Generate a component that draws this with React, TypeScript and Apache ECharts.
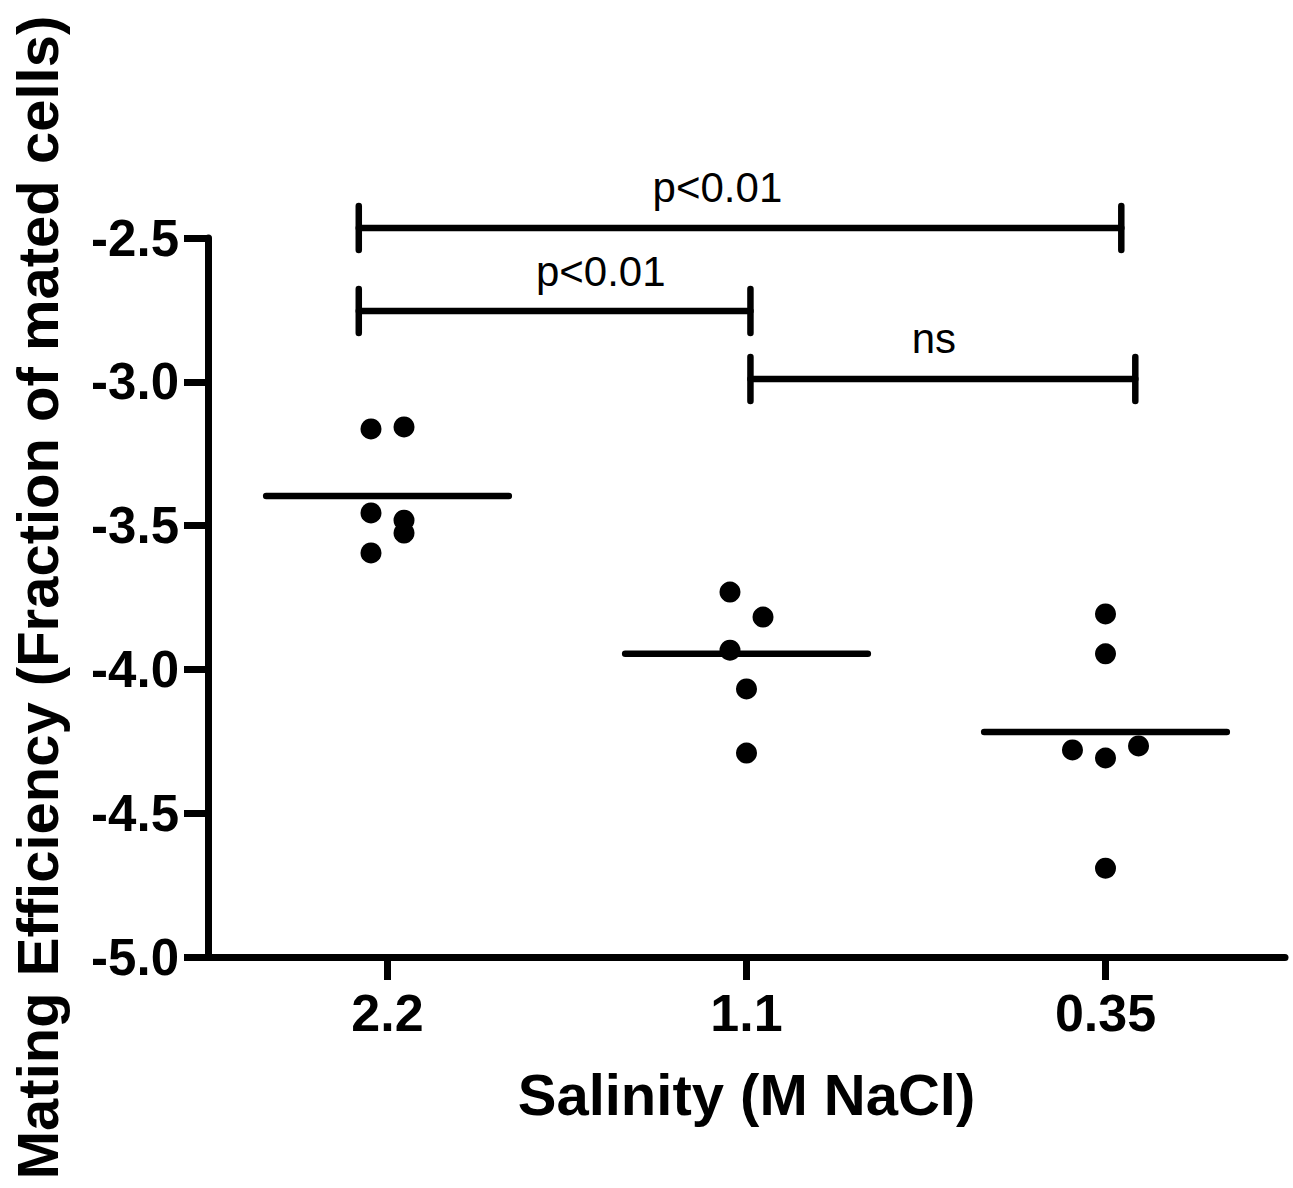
import React, { useEffect, useRef } from "react";
import * as echarts from "echarts";

// ---- data ----
const categories = ["2.2", "1.1", "0.35"];

const values22 = [-3.164, -3.157, -3.456, -3.481, -3.526, -3.595];
const jitter22 = [-1, 1, -1, 1, 1, -1];
const values11 = [-3.731, -3.818, -3.933, -4.068, -4.291];
const jitter11 = [-1, 1, -1, 0, 0];
const values035 = [-3.807, -3.946, -4.28, -4.308, -4.266, -4.691];
const jitter035 = [0, 0, -2, 0, 2, 0];

const groupMeans = [-3.397, -3.946, -4.218];

const yMin = -5.0;
const yMax = -2.5;
const yStep = 0.5;

// significance brackets (x in category units, y in data units)
const bracketStart = [-0.08, -0.08, 1.011];
const bracketEnd = [2.044, 1.011, 2.083];
const bracketLevel = [-2.465, -2.754, -2.99];
const bracketLabelX = [0.919, 0.594, 1.522];
const bracketLabels = ["p<0.01", "p<0.01", "ns"];

const xTitle = "Salinity (M NaCl)";
const yTitle = "Mating Efficiency (Fraction of mated cells)";

// ---- styling constants ----
const FONT = '"Liberation Sans", Arial, Helvetica, sans-serif';
const JITTER_STEP = 0.046;
const MEAN_HALF_WIDTH = 0.338;
const LW = 7;

export default function App() {
  const ref = useRef<HTMLDivElement>(null);

  useEffect(() => {
    if (!ref.current) return;
    const chart = echarts.init(ref.current, null, { renderer: "svg" });

    const groups = [
      { vals: values22, jit: jitter22 },
      { vals: values11, jit: jitter11 },
      { vals: values035, jit: jitter035 },
    ];
    const points: number[][] = [];
    groups.forEach((g, gi) => {
      g.vals.forEach((v, i) => points.push([gi + g.jit[i] * JITTER_STEP, v]));
    });

    const meanData = groupMeans.map((m, i) => [i, m]);
    const bracketData = bracketStart.map((s, i) => [
      s,
      bracketEnd[i],
      bracketLevel[i],
      bracketLabelX[i],
    ]);

    const option: any = {
      animation: false,
      backgroundColor: "#ffffff",
      grid: { left: 207, right: 8, top: 238, bottom: 231, containLabel: false },
      xAxis: [
        {
          type: "category",
          data: categories,
          boundaryGap: true,
          axisLine: { show: true, onZero: false, lineStyle: { color: "#000", width: LW } },
          axisTick: {
            show: true,
            alignWithLabel: true,
            interval: 0,
            length: 23,
            lineStyle: { color: "#000", width: LW },
          },
          axisLabel: {
            interval: 0,
            margin: 30,
            color: "#000",
            fontSize: 52,
            fontWeight: "bold",
            fontFamily: FONT,
          },
          splitLine: { show: false },
          name: xTitle,
          nameLocation: "middle",
          nameGap: 108,
          nameTextStyle: {
            color: "#000",
            fontSize: 58,
            fontWeight: "bold",
            fontFamily: FONT,
          },
        },
        {
          type: "value",
          show: false,
          min: -0.5,
          max: 2.5,
          axisLine: { onZero: false },
          splitLine: { show: false },
        },
      ],
      yAxis: {
        type: "value",
        min: yMin,
        max: yMax,
        interval: yStep,
        axisLine: { show: true, onZero: false, lineStyle: { color: "#000", width: LW } },
        axisTick: { show: true, length: 24, lineStyle: { color: "#000", width: LW } },
        axisLabel: {
          margin: 29,
          color: "#000",
          fontSize: 51,
          fontWeight: "bold",
          fontFamily: FONT,
          formatter: (v: number) => v.toFixed(1),
        },
        splitLine: { show: false },
        name: yTitle,
        nameLocation: "middle",
        nameGap: 142,
        nameTextStyle: {
          color: "#000",
          fontSize: 58,
          fontWeight: "bold",
          fontFamily: FONT,
        },
      },
      series: [
        {
          type: "scatter",
          xAxisIndex: 1,
          yAxisIndex: 0,
          data: points,
          symbol: "circle",
          symbolSize: 21,
          itemStyle: { color: "#000", opacity: 1 },
          z: 3,
        },
        {
          type: "custom",
          xAxisIndex: 1,
          yAxisIndex: 0,
          data: meanData,
          encode: { x: 0, y: 1 },
          renderItem: (params: any, api: any) => {
            const c = api.value(0);
            const m = api.value(1);
            const a = api.coord([c - MEAN_HALF_WIDTH, m]);
            const b = api.coord([c + MEAN_HALF_WIDTH, m]);
            return {
              type: "line",
              shape: { x1: a[0], y1: a[1], x2: b[0], y2: b[1] },
              style: { stroke: "#000", lineWidth: 6.5, lineCap: "round" },
            };
          },
          z: 2,
        },
        {
          type: "custom",
          xAxisIndex: 1,
          yAxisIndex: 0,
          data: bracketData,
          encode: { x: [0, 1, 3], y: 2 },
          clip: false,
          renderItem: (params: any, api: any) => {
            const i = params.dataIndex;
            const lvl = api.value(2);
            const p1 = api.coord([api.value(0), lvl]);
            const p2 = api.coord([api.value(1), lvl]);
            const lp = api.coord([api.value(3), lvl]);
            const h = 22;
            const st = { stroke: "#000", lineWidth: 6.5, lineCap: "round" };
            return {
              type: "group",
              children: [
                { type: "line", shape: { x1: p1[0], y1: p1[1], x2: p2[0], y2: p2[1] }, style: st },
                { type: "line", shape: { x1: p1[0], y1: p1[1] - h, x2: p1[0], y2: p1[1] + h }, style: st },
                { type: "line", shape: { x1: p2[0], y1: p2[1] - h, x2: p2[0], y2: p2[1] + h }, style: st },
                {
                  type: "text",
                  x: lp[0],
                  y: lp[1] - 40,
                  style: {
                    text: bracketLabels[i],
                    fill: "#000",
                    fontSize: 42,
                    fontFamily: FONT,
                    align: "center",
                    verticalAlign: "middle",
                  },
                },
              ],
            };
          },
          z: 2,
        },
      ],
    };

    chart.setOption(option);
    return () => chart.dispose();
  }, []);

  return (
    <div
      ref={ref}
      style={{ position: "absolute", left: 0, top: 0, width: 1293, height: 1188, background: "#fff" }}
    />
  );
}
